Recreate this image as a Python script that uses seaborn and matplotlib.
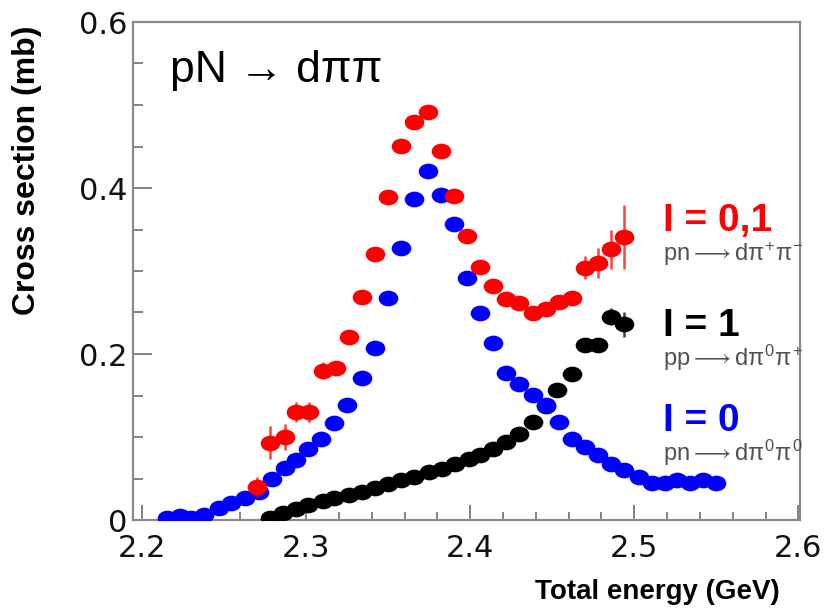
import numpy as np
import pandas as pd
import matplotlib
matplotlib.use("Agg")
import matplotlib.pyplot as plt
from matplotlib.path import Path
from matplotlib.transforms import Affine2D
from matplotlib.ticker import MultipleLocator, FuncFormatter
import seaborn as sns

# pn -> d pi0 pi0  (isospin I = 0)
blue_x = [2.215, 2.223, 2.230, 2.238, 2.247, 2.254, 2.263, 2.271, 2.279, 2.287,
          2.294, 2.301, 2.309, 2.317, 2.325, 2.334, 2.342, 2.350, 2.358, 2.366,
          2.374, 2.382, 2.390, 2.398, 2.406, 2.414, 2.422, 2.430, 2.438, 2.446,
          2.454, 2.462, 2.470, 2.478, 2.486, 2.494, 2.503, 2.511, 2.519, 2.526,
          2.534, 2.542, 2.550]
blue_y = [0.002, 0.005, 0.003, 0.006, 0.014, 0.021, 0.026, 0.034, 0.050, 0.063,
          0.072, 0.086, 0.097, 0.117, 0.139, 0.171, 0.207, 0.267, 0.328, 0.387,
          0.420, 0.392, 0.357, 0.291, 0.250, 0.213, 0.177, 0.164, 0.151, 0.139,
          0.118, 0.098, 0.088, 0.078, 0.068, 0.060, 0.052, 0.044, 0.044, 0.048,
          0.044, 0.048, 0.044]
blue_err = [0.0] * len(blue_x)

# pn -> d pi+ pi-  (I = 0,1)
red_x = [2.270, 2.278, 2.287, 2.294, 2.302, 2.310, 2.318, 2.326, 2.334, 2.342,
         2.350, 2.358, 2.366, 2.374, 2.382, 2.390, 2.398, 2.406, 2.414, 2.422,
         2.430, 2.438, 2.446, 2.454, 2.462, 2.470, 2.478, 2.486, 2.494]
red_y = [0.040, 0.093, 0.100, 0.130, 0.130, 0.180, 0.183, 0.221, 0.269, 0.321,
         0.389, 0.451, 0.479, 0.491, 0.445, 0.390, 0.342, 0.305, 0.282, 0.266,
         0.261, 0.250, 0.254, 0.263, 0.268, 0.304, 0.310, 0.326, 0.341]
red_err = [0.012, 0.020, 0.016, 0.012, 0.012, 0.010, 0.008, 0.005, 0.004, 0.004,
           0.004, 0.004, 0.004, 0.004, 0.004, 0.004, 0.004, 0.004, 0.004, 0.004,
           0.004, 0.004, 0.004, 0.004, 0.004, 0.014, 0.018, 0.023, 0.038]

# pp -> d pi0 pi+  (I = 1)
black_x = [2.278, 2.286, 2.294, 2.301, 2.310, 2.317, 2.326, 2.334, 2.342, 2.350,
           2.358, 2.366, 2.375, 2.383, 2.391, 2.399, 2.406, 2.414, 2.422, 2.430,
           2.438, 2.446, 2.453, 2.462, 2.470, 2.478, 2.486, 2.494]
black_y = [0.003, 0.009, 0.013, 0.018, 0.023, 0.027, 0.030, 0.034, 0.038, 0.043,
           0.048, 0.052, 0.058, 0.062, 0.068, 0.074, 0.078, 0.086, 0.094, 0.104,
           0.118, 0.137, 0.157, 0.176, 0.211, 0.211, 0.245, 0.236]
black_err = [0.0] * 26 + [0.010, 0.015]

channels = ["I = 1", "I = 0", "I = 0,1"]
reactions = [r"pp$\longrightarrow$d$\pi^{0}\pi^{+}$",
             r"pn$\longrightarrow$d$\pi^{0}\pi^{0}$",
             r"pn$\longrightarrow$d$\pi^{+}\pi^{-}$"]
colors = ["#000000", "#0000ff", "#ff0000"]

x_ticks = [2.2, 2.3, 2.4, 2.5, 2.6]
y_ticks = [0.0, 0.2, 0.4, 0.6]

sns.set_theme(style="ticks")
plt.rcParams["font.family"] = ["Liberation Sans", "DejaVu Sans"]
plt.rcParams["text.color"] = "black"
plt.rcParams["mathtext.fontset"] = "custom"
plt.rcParams["mathtext.rm"] = "Liberation Sans"
plt.rcParams["mathtext.it"] = "Liberation Sans"
plt.rcParams["mathtext.bf"] = "Liberation Sans:bold"

frames = []
for name, xs, ys, es in [("I = 1", black_x, black_y, black_err),
                         ("I = 0", blue_x, blue_y, blue_err),
                         ("I = 0,1", red_x, red_y, red_err)]:
    frames.append(pd.DataFrame({"energy": xs, "xsec": ys, "err": es, "channel": name}))
df = pd.concat(frames, ignore_index=True)

fig = plt.figure(figsize=(8.33, 6.12), dpi=100)
ax = fig.add_axes([133 / 833, 92 / 612, 667 / 833, 498 / 612])

oval = Path.unit_circle().transformed(Affine2D().scale(1.0, 0.8))
palette = dict(zip(channels, colors))

for z, name in enumerate(channels):
    sub = df[df["channel"] == name]
    bars = sub[sub["err"] > 0]
    ax.errorbar(bars["energy"], bars["xsec"], yerr=bars["err"], fmt="none",
                ecolor=palette[name], elinewidth=1.8, alpha=0.75, zorder=2 + 2 * z)
    sns.scatterplot(data=sub, x="energy", y="xsec", color=palette[name],
                    marker=oval, s=200, linewidth=0, ax=ax, legend=False,
                    zorder=3 + 2 * z)

ax.set_xlim(2.1945, 2.601)
ax.set_ylim(0, 0.6)
ax.set_xticks(x_ticks)
ax.set_yticks(y_ticks)
ax.xaxis.set_minor_locator(MultipleLocator(0.02))
ax.yaxis.set_minor_locator(MultipleLocator(0.05))
fmt = FuncFormatter(lambda v, p: "0" if abs(v) < 1e-9 else f"{v:.1f}")
ax.xaxis.set_major_formatter(fmt)
ax.yaxis.set_major_formatter(fmt)
ax.set_xlabel("")
ax.set_ylabel("")

ax.tick_params(which="both", direction="in", color="#7a7a7a", width=1.3,
               labelsize=22, labelcolor="#111111", labelfontfamily="DejaVu Sans")
ax.tick_params(axis="x", which="major", length=11, pad=10)
ax.tick_params(axis="x", which="minor", length=6)
ax.tick_params(axis="y", which="major", length=14, pad=4)
ax.tick_params(axis="y", which="minor", length=7)
for s in ax.spines.values():
    s.set_color("#8a8a8a")
    s.set_linewidth(1.6)

fig.text(170 / 833, 1 - 82 / 612, "pN → dππ", fontsize=32, va="baseline", ha="left",
         color="black")

label_pos = {"I = 0,1": (231, 261), "I = 1": (336, 366), "I = 0": (431, 461)}
for name, rx, col in zip(channels, reactions, colors):
    yb, ys = label_pos[name]
    fig.text(663 / 833, 1 - yb / 612, name, color=col, fontsize=28,
             fontweight="bold", va="baseline", ha="left")
    fig.text(663 / 833, 1 - ys / 612, rx, color="#505050", fontsize=17,
             va="baseline", ha="left")

fig.text(27 / 833, 1 - 170 / 612, "Cross section (mb)", rotation=90, fontsize=23,
         fontweight="bold", ha="center", va="center", color="black")
fig.text(657 / 833, 1 - 592 / 612, "Total energy (GeV)", fontsize=20,
         fontweight="bold", ha="center", va="center", color="black")

fig.savefig("out.png", dpi=100, facecolor="white")
